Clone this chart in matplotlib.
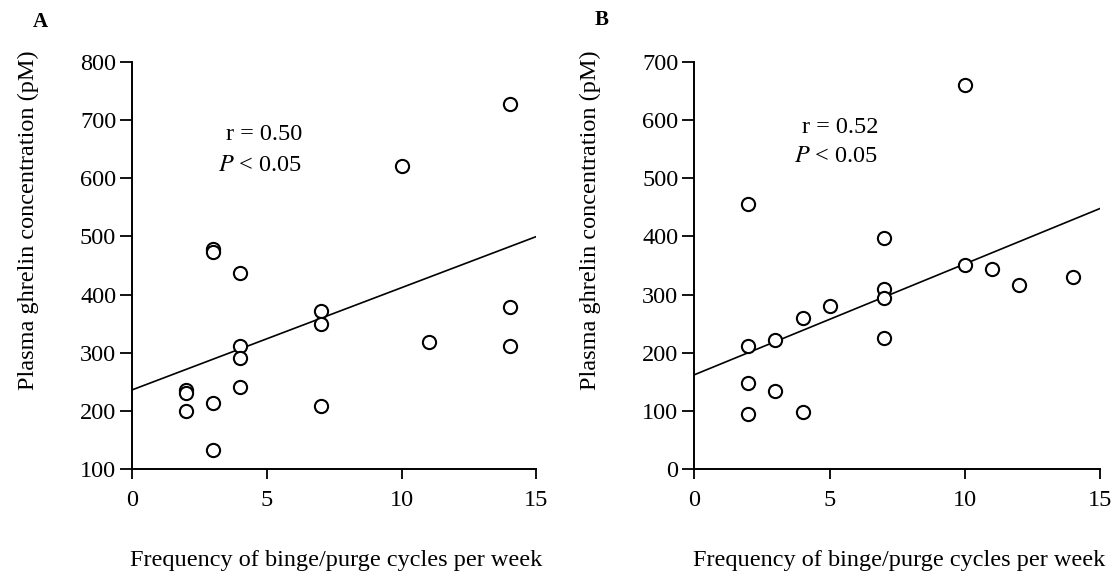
import numpy as np
import matplotlib.pyplot as plt

plt.rcParams['font.family'] = ['Liberation Serif', 'DejaVu Serif']
plt.rcParams['mathtext.fontset'] = 'stix'

# Panel A data
a_x = [2, 2, 2, 3, 3, 3, 3, 4, 4, 4, 4, 7, 7, 7, 10, 11, 14, 14, 14]
a_y = [235, 230, 200, 478, 473, 213, 133, 437, 312, 290, 241, 371, 350, 209, 622, 318, 728, 378, 311]
a_intercept, a_slope = 236, 17.6
a_r, a_p = '0.50', '0.05'

# Panel B data
b_x = [2, 2, 2, 2, 3, 3, 4, 4, 5, 7, 7, 7, 7, 10, 10, 11, 12, 14]
b_y = [456, 212, 148, 95, 221, 134, 260, 98, 281, 397, 309, 294, 225, 661, 351, 344, 317, 330]
b_intercept, b_slope = 162, 19.07
b_r, b_p = '0.52', '0.05'

x_ticks = [0, 5, 10, 15]
a_yticks = [100, 200, 300, 400, 500, 600, 700, 800]
b_yticks = [0, 100, 200, 300, 400, 500, 600, 700]

FS = 17.5

fig = plt.figure(figsize=(11.2, 5.76), dpi=100)
ax_a = fig.add_axes([0.118, 0.186, 0.361, 0.706])
ax_b = fig.add_axes([0.620, 0.186, 0.362, 0.706])


def draw_panel(ax, xs, ys, intercept, slope, yticks, r, p, text_x, text_y, text_gap):
    ax.plot(xs, ys, 'o', mfc='white', mec='black', ms=9.5, mew=1.5, clip_on=False, zorder=3)
    line_x = np.array([x_ticks[0], x_ticks[-1]])
    ax.plot(line_x, intercept + slope * line_x, color='black', lw=1.2, zorder=2)
    ax.set_xlim(x_ticks[0], x_ticks[-1])
    ax.set_ylim(yticks[0], yticks[-1])
    ax.set_xticks(x_ticks)
    ax.set_yticks(yticks)
    for side in ['top', 'right']:
        ax.spines[side].set_visible(False)
    for side in ['left', 'bottom']:
        ax.spines[side].set_linewidth(1.4)
    ax.tick_params(axis='y', direction='out', length=8.5, width=1.3, labelsize=FS, pad=3)
    ax.tick_params(axis='x', direction='out', length=7, width=1.3, labelsize=FS, pad=8)
    ax.set_xlabel('Frequency of binge/purge cycles per week', fontsize=FS)
    ax.xaxis.set_label_coords(0.505, -0.2)
    ax.set_ylabel('Plasma ghrelin concentration (pM)', fontsize=FS, va='center')
    ax.yaxis.set_label_coords(-0.257, 0.612)
    ax.text(text_x, text_y, f'r = {r}', fontsize=FS, ha='right', va='center')
    ax.text(text_x, text_y - text_gap, f'$P$ < {p}', fontsize=FS, ha='right', va='center')


draw_panel(ax_a, a_x, a_y, a_intercept, a_slope, a_yticks, a_r, a_p, 6.3, 676, 53)
draw_panel(ax_b, b_x, b_y, b_intercept, b_slope, b_yticks, b_r, b_p, 6.8, 588, 51)

fig.text(0.036, 0.962, 'A', fontsize=15, fontweight='bold', ha='center', va='center')
fig.text(0.537, 0.966, 'B', fontsize=15, fontweight='bold', ha='center', va='center')

fig.savefig('out.png', dpi=100)
